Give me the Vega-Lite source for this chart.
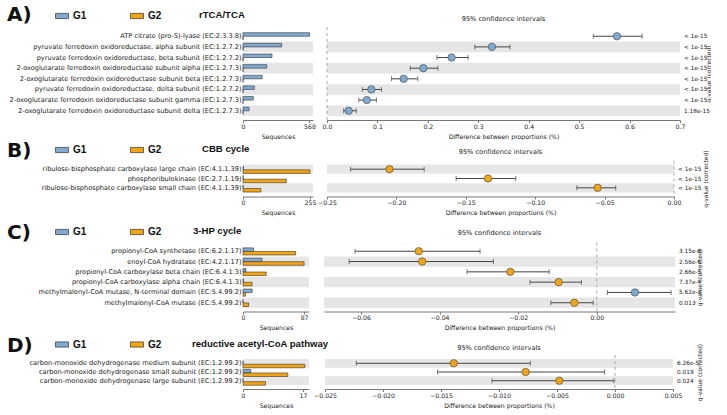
{
 "$schema": "https://vega.github.io/schema/vega-lite/v6.json",
 "padding": {"left": 7, "top": 5, "right": 0, "bottom": 0},
 "background": "white",
 "config": {
  "view": {"stroke": null},
  "font": "DejaVu Sans",
  "axis": {"labelFont": "DejaVu Sans", "titleFont": "DejaVu Sans", "labelFontSize": 6.2, "titleFontSize": 6.2, "titleFontWeight": "normal", "labelColor": "#222", "titleColor": "#222", "domainColor": "#777", "tickColor": "#777", "tickSize": 2.5, "grid": false, "labelPadding": 0.5, "titlePadding": 4, "labelFlush": false, "labelOverlap": false},
  "axisLeft": {"ticks": false, "domain": false, "labelFontSize": 6.6, "labelLimit": 400, "labelPadding": 2},
  "axisRight": {"labels": false, "ticks": false, "domain": false, "titleAngle": 270, "titleFontSize": 6},
  "legend": {"orient": "none", "direction": "horizontal", "titleOrient": "right", "columnPadding": 42, "symbolType": "M-1,-0.4H1V0.4H-1Z", "symbolSize": 169, "symbolStrokeColor": "#333", "symbolStrokeWidth": 0.7, "labelFont": "Liberation Sans", "labelFontSize": 10, "labelFontWeight": "bold", "labelOffset": 4, "labelColor": "#111", "titleFont": "Liberation Sans", "titleFontSize": 9.6, "titleFontWeight": "bold", "titleColor": "#111", "padding": 0},
  "title": {"font": "DejaVu Sans", "color": "#111", "anchor": "start", "frame": "group", "baseline": "middle"}
 },
 "resolve": {"scale": {"color": "independent"}, "legend": {"color": "independent"}},
 "datasets": {
  "A": [
   {"rank": 1, "feature": "ATP citrate (pro-S)-lyase (EC:2.3.3.8)", "G1": 568, "G2": 1, "diff": 0.575, "lo": 0.528, "hi": 0.625, "q": "< 1e-15"},
   {"rank": 2, "feature": "pyruvate ferredoxin oxidoreductase, alpha subunit (EC:1.2.7.2)", "G1": 330, "G2": 1, "diff": 0.327, "lo": 0.293, "hi": 0.363, "q": "< 1e-15"},
   {"rank": 3, "feature": "pyruvate ferredoxin oxidoreductase, beta subunit (EC:1.2.7.2)", "G1": 248, "G2": 1, "diff": 0.247, "lo": 0.218, "hi": 0.28, "q": "< 1e-15"},
   {"rank": 4, "feature": "2-oxoglutarate ferredoxin oxidoreductase subunit alpha (EC:1.2.7.3)", "G1": 203, "G2": 1, "diff": 0.191, "lo": 0.165, "hi": 0.22, "q": "< 1e-15"},
   {"rank": 5, "feature": "2-oxoglutarate ferredoxin oxidoreductase subunit beta (EC:1.2.7.3)", "G1": 164, "G2": 1, "diff": 0.152, "lo": 0.128, "hi": 0.18, "q": "< 1e-15"},
   {"rank": 6, "feature": "pyruvate ferredoxin oxidoreductase, delta subunit (EC:1.2.7.2)", "G1": 97, "G2": 0, "diff": 0.088, "lo": 0.07, "hi": 0.108, "q": "< 1e-15"},
   {"rank": 7, "feature": "2-oxoglutarate ferredoxin oxidoreductase subunit gamma (EC:1.2.7.3)", "G1": 88, "G2": 0, "diff": 0.079, "lo": 0.063, "hi": 0.098, "q": "< 1e-15"},
   {"rank": 8, "feature": "2-oxoglutarate ferredoxin oxidoreductase subunit delta (EC:1.2.7.3)", "G1": 52, "G2": 0, "diff": 0.043, "lo": 0.033, "hi": 0.058, "q": "1.18e-15"}
  ],
  "B": [
   {"rank": 1, "feature": "ribulose-bisphosphate carboxylase large chain (EC:4.1.1.39)", "G1": 2, "G2": 255, "diff": -0.205, "lo": -0.233, "hi": -0.18, "q": "< 1e-15"},
   {"rank": 2, "feature": "phosphoribulokinase (EC:2.7.1.19)", "G1": 1, "G2": 165, "diff": -0.134, "lo": -0.157, "hi": -0.114, "q": "< 1e-15"},
   {"rank": 3, "feature": "ribulose-bisphosphate carboxylase small chain (EC:4.1.1.39)", "G1": 0, "G2": 68, "diff": -0.055, "lo": -0.07, "hi": -0.042, "q": "< 1e-15"}
  ],
  "C": [
   {"rank": 1, "feature": "propionyl-CoA synthetase (EC:6.2.1.17)", "G1": 15, "G2": 75, "diff": -0.0453, "lo": -0.0615, "hi": -0.0297, "q": "3.15e-8"},
   {"rank": 2, "feature": "enoyl-CoA hydratase (EC:4.2.1.17)", "G1": 27, "G2": 87, "diff": -0.0444, "lo": -0.063, "hi": -0.0263, "q": "2.56e-6"},
   {"rank": 3, "feature": "propionyl-CoA carboxylase beta chain (EC:6.4.1.3)", "G1": 4, "G2": 33, "diff": -0.022, "lo": -0.033, "hi": -0.0121, "q": "2.66e-5"},
   {"rank": 4, "feature": "propionyl-CoA carboxylase alpha chain (EC:6.4.1.3)", "G1": 0.5, "G2": 13, "diff": -0.0097, "lo": -0.017, "hi": -0.0039, "q": "7.37e-4"},
   {"rank": 5, "feature": "methylmalonyl-CoA mutase, N-terminal domain (EC:5.4.99.2)", "G1": 13, "G2": 3.5, "diff": 0.0097, "lo": 0.0027, "hi": 0.0189, "q": "5.62e-3"},
   {"rank": 6, "feature": "methylmalonyl-CoA mutase (EC:5.4.99.2)", "G1": 0, "G2": 8, "diff": -0.0057, "lo": -0.0117, "hi": -0.0009, "q": "0.013"}
  ],
  "D": [
   {"rank": 1, "feature": "carbon-monoxide dehydrogenase medium subunit (EC:1.2.99.2)", "G1": 0, "G2": 17.5, "diff": -0.0139, "lo": -0.0223, "hi": -0.0073, "q": "6.26e-5"},
   {"rank": 2, "feature": "carbon-monoxide dehydrogenase small subunit (EC:1.2.99.2)", "G1": 2.2, "G2": 12.7, "diff": -0.0077, "lo": -0.0153, "hi": -0.0009, "q": "0.019"},
   {"rank": 3, "feature": "carbon-monoxide dehydrogenase large subunit (EC:1.2.99.2)", "G1": 0, "G2": 6.4, "diff": -0.0048, "lo": -0.0106, "hi": -0.0001, "q": "0.024"}
  ]
 },
 "spacing": 6.5,
 "vconcat": [
 {
 "spacing": 0.5,
 "resolve": {"scale": {"color": "independent"}, "legend": {"color": "independent"}},
 "vconcat": [
  {
   "data": {"name": "A"}, "bounds": "flush", "spacing": 14,
   "hconcat": [
    {
     "width": 70, "height": 93,
     "title": {"text": "A)", "fontSize": 20, "fontWeight": "bold", "dx": -236, "offset": 2},
     "transform": [{"joinaggregate": [{"op": "count", "as": "n"}]}],
     "layer": [
      {"transform": [{"filter": "(datum.n - datum.rank) % 2 == 0"}], "mark": {"type": "rect", "color": "#e6e6e6"},
       "encoding": {
        "y": {"field": "feature", "type": "nominal", "sort": {"field": "rank", "op": "min"}, "scale": {"paddingInner": 0, "paddingOuter": 0.37}, "axis": {"title": null}},
        "x": {"datum": 0, "type": "quantitative", "scale": {"domain": [0, 598], "nice": false}, "axis": {"values": [0, 568], "title": "Sequences", "format": "d"}},
        "x2": {"datum": 598}}},
      {"transform": [{"fold": ["G1", "G2"], "as": ["group", "value"]}], "mark": {"type": "bar", "stroke": "#333", "strokeWidth": 0.6},
       "encoding": {
        "y": {"field": "feature", "type": "nominal", "sort": {"field": "rank", "op": "min"}, "scale": {"paddingInner": 0, "paddingOuter": 0.37}, "axis": {"title": null}},
        "yOffset": {"field": "group", "type": "nominal", "scale": {"paddingOuter": 0.5, "paddingInner": 0}},
        "x": {"field": "value", "type": "quantitative", "scale": {"domain": [0, 598], "nice": false}, "axis": {"values": [0, 568], "title": "Sequences", "format": "d"}},
        "color": {"field": "group", "type": "nominal", "scale": {"domain": ["G1", "G2"], "range": ["#7faad1", "#f5a50f"]}, "legend": {"title": "rTCA/TCA", "legendX": -188, "legendY": -18, "titlePadding": 38}}}}
     ]
    },
    {
     "width": 353, "height": 93,
     "title": {"text": "95% confidence intervals", "anchor": "middle", "fontSize": 6.6, "fontWeight": "normal", "offset": 4, "color": "#222"},
     "transform": [{"joinaggregate": [{"op": "count", "as": "n"}]}],
     "layer": [
      {"transform": [{"filter": "(datum.n - datum.rank) % 2 == 0"}], "mark": {"type": "rect", "color": "#e6e6e6"},
       "encoding": {
        "y": {"field": "feature", "type": "nominal", "sort": {"field": "rank", "op": "min"}, "scale": {"paddingInner": 0, "paddingOuter": 0.37}, "axis": {"orient": "right", "title": "q-value (corrected)", "titlePadding": 31}},
        "x": {"datum": 0, "type": "quantitative", "scale": {"domain": [0, 0.7], "nice": false}, "title": "Difference between proportions (%)", "axis": {"values": [0, 0.1, 0.2, 0.3, 0.4, 0.5, 0.6, 0.7], "format": ".1f"}},
        "x2": {"datum": 0.7}}},
      {"transform": [{"filter": "datum.rank == 1"}], "mark": {"type": "rule", "color": "#aaa", "strokeDash": [3, 3], "strokeWidth": 1},
       "encoding": {"x": {"datum": 0, "type": "quantitative", "scale": {"domain": [0, 0.7], "nice": false}, "title": "Difference between proportions (%)", "axis": {"values": [0, 0.1, 0.2, 0.3, 0.4, 0.5, 0.6, 0.7], "format": ".1f"}}}},
      {"mark": {"type": "rule", "color": "#444", "strokeWidth": 1},
       "encoding": {
        "y": {"field": "feature", "type": "nominal", "sort": {"field": "rank", "op": "min"}, "scale": {"paddingInner": 0, "paddingOuter": 0.37}, "axis": {"orient": "right", "title": "q-value (corrected)", "titlePadding": 31}},
        "x": {"field": "lo", "type": "quantitative", "scale": {"domain": [0, 0.7], "nice": false}, "title": "Difference between proportions (%)", "axis": {"values": [0, 0.1, 0.2, 0.3, 0.4, 0.5, 0.6, 0.7], "format": ".1f"}},
        "x2": {"field": "hi"}}},
      {"mark": {"type": "tick", "color": "#444", "size": 5, "thickness": 1},
       "encoding": {
        "y": {"field": "feature", "type": "nominal", "sort": {"field": "rank", "op": "min"}, "scale": {"paddingInner": 0, "paddingOuter": 0.37}, "axis": {"orient": "right", "title": "q-value (corrected)", "titlePadding": 31}},
        "x": {"field": "lo", "type": "quantitative", "scale": {"domain": [0, 0.7], "nice": false}, "title": "Difference between proportions (%)"}}},
      {"mark": {"type": "tick", "color": "#444", "size": 5, "thickness": 1},
       "encoding": {
        "y": {"field": "feature", "type": "nominal", "sort": {"field": "rank", "op": "min"}, "scale": {"paddingInner": 0, "paddingOuter": 0.37}, "axis": {"orient": "right", "title": "q-value (corrected)", "titlePadding": 31}},
        "x": {"field": "hi", "type": "quantitative", "scale": {"domain": [0, 0.7], "nice": false}, "title": "Difference between proportions (%)"}}},
      {"mark": {"type": "circle", "size": 55, "stroke": "#555", "strokeWidth": 0.7, "opacity": 1},
       "encoding": {
        "y": {"field": "feature", "type": "nominal", "sort": {"field": "rank", "op": "min"}, "scale": {"paddingInner": 0, "paddingOuter": 0.37}, "axis": {"orient": "right", "title": "q-value (corrected)", "titlePadding": 31}},
        "x": {"field": "diff", "type": "quantitative", "scale": {"domain": [0, 0.7], "nice": false}, "title": "Difference between proportions (%)"},
        "color": {"condition": {"test": "datum.diff > 0", "value": "#7faad1"}, "value": "#f5a50f"}}},
      {"mark": {"type": "text", "align": "left", "dx": 4, "fontSize": 5.8, "color": "#222", "font": "DejaVu Sans"},
       "encoding": {
        "y": {"field": "feature", "type": "nominal", "sort": {"field": "rank", "op": "min"}, "scale": {"paddingInner": 0, "paddingOuter": 0.37}, "axis": {"orient": "right", "title": "q-value (corrected)", "titlePadding": 31}},
        "x": {"datum": 0.7, "type": "quantitative"},
        "text": {"field": "q"}}}
     ]
    }
   ]
  },
  {
   "data": {"name": "B"}, "bounds": "flush", "spacing": 14,
   "hconcat": [
    {
     "width": 70, "height": 36,
     "title": {"text": "B)", "fontSize": 20, "fontWeight": "bold", "dx": -236, "offset": -0.5},
     "transform": [{"joinaggregate": [{"op": "count", "as": "n"}]}],
     "layer": [
      {"transform": [{"filter": "(datum.n - datum.rank) % 2 == 0"}], "mark": {"type": "rect", "color": "#e6e6e6"},
       "encoding": {
        "y": {"field": "feature", "type": "nominal", "sort": {"field": "rank", "op": "min"}, "scale": {"paddingInner": 0, "paddingOuter": 0.43}, "axis": {"title": null}},
        "x": {"datum": 0, "type": "quantitative", "scale": {"domain": [0, 266.4], "nice": false}, "axis": {"values": [0, 255], "title": "Sequences", "format": "d"}},
        "x2": {"datum": 266.4}}},
      {"transform": [{"fold": ["G1", "G2"], "as": ["group", "value"]}], "mark": {"type": "bar", "stroke": "#333", "strokeWidth": 0.6},
       "encoding": {
        "y": {"field": "feature", "type": "nominal", "sort": {"field": "rank", "op": "min"}, "scale": {"paddingInner": 0, "paddingOuter": 0.43}, "axis": {"title": null}},
        "yOffset": {"field": "group", "type": "nominal", "scale": {"paddingOuter": 0.5, "paddingInner": 0}},
        "x": {"field": "value", "type": "quantitative", "scale": {"domain": [0, 266.4], "nice": false}, "axis": {"values": [0, 255], "title": "Sequences", "format": "d"}},
        "color": {"field": "group", "type": "nominal", "scale": {"domain": ["G1", "G2"], "range": ["#7faad1", "#f5a50f"]}, "legend": {"title": "CBB cycle", "legendX": -188, "legendY": -17.5, "titlePadding": 41}}}}
     ]
    },
    {
     "width": 347, "height": 36,
     "title": {"text": "95% confidence intervals", "anchor": "middle", "fontSize": 6.6, "fontWeight": "normal", "offset": -6, "color": "#222"},
     "transform": [{"joinaggregate": [{"op": "count", "as": "n"}]}],
     "layer": [
      {"transform": [{"filter": "(datum.n - datum.rank) % 2 == 0"}], "mark": {"type": "rect", "color": "#e6e6e6"},
       "encoding": {
        "y": {"field": "feature", "type": "nominal", "sort": {"field": "rank", "op": "min"}, "scale": {"paddingInner": 0, "paddingOuter": 0.43}, "axis": {"orient": "right", "title": "q-value (corrected)", "titlePadding": 34}},
        "x": {"datum": -0.25, "type": "quantitative", "scale": {"domain": [-0.25, 0], "nice": false}, "title": "Difference between proportions (%)", "axis": {"values": [-0.25, -0.2, -0.15, -0.1, -0.05, 0], "format": ".2f"}},
        "x2": {"datum": 0}}},
      {"transform": [{"filter": "datum.rank == 1"}], "mark": {"type": "rule", "color": "#aaa", "strokeDash": [3, 3], "strokeWidth": 1},
       "encoding": {"x": {"datum": 0, "type": "quantitative", "scale": {"domain": [-0.25, 0], "nice": false}, "title": "Difference between proportions (%)", "axis": {"values": [-0.25, -0.2, -0.15, -0.1, -0.05, 0], "format": ".2f"}}}},
      {"mark": {"type": "rule", "color": "#444", "strokeWidth": 1},
       "encoding": {
        "y": {"field": "feature", "type": "nominal", "sort": {"field": "rank", "op": "min"}, "scale": {"paddingInner": 0, "paddingOuter": 0.43}, "axis": {"orient": "right", "title": "q-value (corrected)", "titlePadding": 34}},
        "x": {"field": "lo", "type": "quantitative", "scale": {"domain": [-0.25, 0], "nice": false}, "title": "Difference between proportions (%)", "axis": {"values": [-0.25, -0.2, -0.15, -0.1, -0.05, 0], "format": ".2f"}},
        "x2": {"field": "hi"}}},
      {"mark": {"type": "tick", "color": "#444", "size": 5, "thickness": 1},
       "encoding": {
        "y": {"field": "feature", "type": "nominal", "sort": {"field": "rank", "op": "min"}, "scale": {"paddingInner": 0, "paddingOuter": 0.43}, "axis": {"orient": "right", "title": "q-value (corrected)", "titlePadding": 34}},
        "x": {"field": "lo", "type": "quantitative", "scale": {"domain": [-0.25, 0], "nice": false}, "title": "Difference between proportions (%)"}}},
      {"mark": {"type": "tick", "color": "#444", "size": 5, "thickness": 1},
       "encoding": {
        "y": {"field": "feature", "type": "nominal", "sort": {"field": "rank", "op": "min"}, "scale": {"paddingInner": 0, "paddingOuter": 0.43}, "axis": {"orient": "right", "title": "q-value (corrected)", "titlePadding": 34}},
        "x": {"field": "hi", "type": "quantitative", "scale": {"domain": [-0.25, 0], "nice": false}, "title": "Difference between proportions (%)"}}},
      {"mark": {"type": "circle", "size": 55, "stroke": "#555", "strokeWidth": 0.7, "opacity": 1},
       "encoding": {
        "y": {"field": "feature", "type": "nominal", "sort": {"field": "rank", "op": "min"}, "scale": {"paddingInner": 0, "paddingOuter": 0.43}, "axis": {"orient": "right", "title": "q-value (corrected)", "titlePadding": 34}},
        "x": {"field": "diff", "type": "quantitative", "scale": {"domain": [-0.25, 0], "nice": false}, "title": "Difference between proportions (%)"},
        "color": {"condition": {"test": "datum.diff > 0", "value": "#7faad1"}, "value": "#f5a50f"}}},
      {"mark": {"type": "text", "align": "left", "dx": 4, "fontSize": 5.8, "color": "#222", "font": "DejaVu Sans"},
       "encoding": {
        "y": {"field": "feature", "type": "nominal", "sort": {"field": "rank", "op": "min"}, "scale": {"paddingInner": 0, "paddingOuter": 0.43}, "axis": {"orient": "right", "title": "q-value (corrected)", "titlePadding": 34}},
        "x": {"datum": 0, "type": "quantitative"},
        "text": {"field": "q"}}}
     ]
    }
   ]
  }
 ]
 },
 {
 "spacing": 3.5,
 "resolve": {"scale": {"color": "independent"}, "legend": {"color": "independent"}},
 "vconcat": [
  {
   "data": {"name": "C"}, "bounds": "flush", "spacing": 15,
   "hconcat": [
    {
     "width": 66, "height": 69,
     "title": {"text": "C)", "fontSize": 20, "fontWeight": "bold", "dx": -236, "offset": -0.5},
     "transform": [{"joinaggregate": [{"op": "count", "as": "n"}]}],
     "layer": [
      {"transform": [{"filter": "(datum.n - datum.rank) % 2 == 0"}], "mark": {"type": "rect", "color": "#e6e6e6"},
       "encoding": {
        "y": {"field": "feature", "type": "nominal", "sort": {"field": "rank", "op": "min"}, "scale": {"paddingInner": 0, "paddingOuter": 0.35}, "axis": {"title": null}},
        "x": {"datum": 0, "type": "quantitative", "scale": {"domain": [0, 94], "nice": false}, "axis": {"values": [0, 87], "title": "Sequences", "format": "d"}},
        "x2": {"datum": 94}}},
      {"transform": [{"fold": ["G1", "G2"], "as": ["group", "value"]}], "mark": {"type": "bar", "stroke": "#333", "strokeWidth": 0.6},
       "encoding": {
        "y": {"field": "feature", "type": "nominal", "sort": {"field": "rank", "op": "min"}, "scale": {"paddingInner": 0, "paddingOuter": 0.35}, "axis": {"title": null}},
        "yOffset": {"field": "group", "type": "nominal", "scale": {"paddingOuter": 0.5, "paddingInner": 0}},
        "x": {"field": "value", "type": "quantitative", "scale": {"domain": [0, 94], "nice": false}, "axis": {"values": [0, 87], "title": "Sequences", "format": "d"}},
        "color": {"field": "group", "type": "nominal", "scale": {"domain": ["G1", "G2"], "range": ["#7faad1", "#f5a50f"]}, "legend": {"title": "3-HP cycle", "legendX": -188, "legendY": -17.5, "titlePadding": 32}}}}
     ]
    },
    {
     "width": 351, "height": 69,
     "title": {"text": "95% confidence intervals", "anchor": "middle", "fontSize": 6.6, "fontWeight": "normal", "offset": 5, "color": "#222"},
     "transform": [{"joinaggregate": [{"op": "count", "as": "n"}]}],
     "layer": [
      {"transform": [{"filter": "(datum.n - datum.rank) % 2 == 0"}], "mark": {"type": "rect", "color": "#e6e6e6"},
       "encoding": {
        "y": {"field": "feature", "type": "nominal", "sort": {"field": "rank", "op": "min"}, "scale": {"paddingInner": 0, "paddingOuter": 0.35}, "axis": {"orient": "right", "title": "q-value (corrected)", "titlePadding": 27}},
        "x": {"datum": -0.0694, "type": "quantitative", "scale": {"domain": [-0.0694, 0.0199], "nice": false}, "title": "Difference between proportions (%)", "axis": {"values": [-0.06, -0.04, -0.02, 0], "format": ".2f"}},
        "x2": {"datum": 0.0199}}},
      {"transform": [{"filter": "datum.rank == 1"}], "mark": {"type": "rule", "color": "#aaa", "strokeDash": [3, 3], "strokeWidth": 1},
       "encoding": {"x": {"datum": 0, "type": "quantitative", "scale": {"domain": [-0.0694, 0.0199], "nice": false}, "title": "Difference between proportions (%)", "axis": {"values": [-0.06, -0.04, -0.02, 0], "format": ".2f"}}}},
      {"mark": {"type": "rule", "color": "#444", "strokeWidth": 1},
       "encoding": {
        "y": {"field": "feature", "type": "nominal", "sort": {"field": "rank", "op": "min"}, "scale": {"paddingInner": 0, "paddingOuter": 0.35}, "axis": {"orient": "right", "title": "q-value (corrected)", "titlePadding": 27}},
        "x": {"field": "lo", "type": "quantitative", "scale": {"domain": [-0.0694, 0.0199], "nice": false}, "title": "Difference between proportions (%)", "axis": {"values": [-0.06, -0.04, -0.02, 0], "format": ".2f"}},
        "x2": {"field": "hi"}}},
      {"mark": {"type": "tick", "color": "#444", "size": 5, "thickness": 1},
       "encoding": {
        "y": {"field": "feature", "type": "nominal", "sort": {"field": "rank", "op": "min"}, "scale": {"paddingInner": 0, "paddingOuter": 0.35}, "axis": {"orient": "right", "title": "q-value (corrected)", "titlePadding": 27}},
        "x": {"field": "lo", "type": "quantitative", "scale": {"domain": [-0.0694, 0.0199], "nice": false}, "title": "Difference between proportions (%)"}}},
      {"mark": {"type": "tick", "color": "#444", "size": 5, "thickness": 1},
       "encoding": {
        "y": {"field": "feature", "type": "nominal", "sort": {"field": "rank", "op": "min"}, "scale": {"paddingInner": 0, "paddingOuter": 0.35}, "axis": {"orient": "right", "title": "q-value (corrected)", "titlePadding": 27}},
        "x": {"field": "hi", "type": "quantitative", "scale": {"domain": [-0.0694, 0.0199], "nice": false}, "title": "Difference between proportions (%)"}}},
      {"mark": {"type": "circle", "size": 55, "stroke": "#555", "strokeWidth": 0.7, "opacity": 1},
       "encoding": {
        "y": {"field": "feature", "type": "nominal", "sort": {"field": "rank", "op": "min"}, "scale": {"paddingInner": 0, "paddingOuter": 0.35}, "axis": {"orient": "right", "title": "q-value (corrected)", "titlePadding": 27}},
        "x": {"field": "diff", "type": "quantitative", "scale": {"domain": [-0.0694, 0.0199], "nice": false}, "title": "Difference between proportions (%)"},
        "color": {"condition": {"test": "datum.diff > 0", "value": "#7faad1"}, "value": "#f5a50f"}}},
      {"mark": {"type": "text", "align": "left", "dx": 4, "fontSize": 5.8, "color": "#222", "font": "DejaVu Sans"},
       "encoding": {
        "y": {"field": "feature", "type": "nominal", "sort": {"field": "rank", "op": "min"}, "scale": {"paddingInner": 0, "paddingOuter": 0.35}, "axis": {"orient": "right", "title": "q-value (corrected)", "titlePadding": 27}},
        "x": {"datum": 0.0199, "type": "quantitative"},
        "text": {"field": "q"}}}
     ]
    }
   ]
  },
  {
   "data": {"name": "D"}, "bounds": "flush", "spacing": 16,
   "hconcat": [
    {
     "width": 66, "height": 34,
     "title": {"text": "D)", "fontSize": 20, "fontWeight": "bold", "dx": -236, "offset": -0.5},
     "transform": [{"joinaggregate": [{"op": "count", "as": "n"}]}],
     "layer": [
      {"transform": [{"filter": "(datum.n - datum.rank) % 2 == 0"}], "mark": {"type": "rect", "color": "#e6e6e6"},
       "encoding": {
        "y": {"field": "feature", "type": "nominal", "sort": {"field": "rank", "op": "min"}, "scale": {"paddingInner": 0, "paddingOuter": 0.45}, "axis": {"title": null}},
        "x": {"datum": 0, "type": "quantitative", "scale": {"domain": [0, 18.7], "nice": false}, "axis": {"values": [0, 17], "title": "Sequences", "format": "d"}},
        "x2": {"datum": 18.7}}},
      {"transform": [{"fold": ["G1", "G2"], "as": ["group", "value"]}], "mark": {"type": "bar", "stroke": "#333", "strokeWidth": 0.6},
       "encoding": {
        "y": {"field": "feature", "type": "nominal", "sort": {"field": "rank", "op": "min"}, "scale": {"paddingInner": 0, "paddingOuter": 0.45}, "axis": {"title": null}},
        "yOffset": {"field": "group", "type": "nominal", "scale": {"paddingOuter": 0.5, "paddingInner": 0}},
        "x": {"field": "value", "type": "quantitative", "scale": {"domain": [0, 18.7], "nice": false}, "axis": {"values": [0, 17], "title": "Sequences", "format": "d"}},
        "color": {"field": "group", "type": "nominal", "scale": {"domain": ["G1", "G2"], "range": ["#7faad1", "#f5a50f"]}, "legend": {"title": "reductive  acetyl-CoA pathway", "legendX": -188, "legendY": -17.5, "titlePadding": 31}}}}
     ]
    },
    {
     "width": 348, "height": 34,
     "title": {"text": "95% confidence intervals", "anchor": "middle", "fontSize": 6.6, "fontWeight": "normal", "offset": -8, "color": "#222"},
     "transform": [{"joinaggregate": [{"op": "count", "as": "n"}]}],
     "layer": [
      {"transform": [{"filter": "(datum.n - datum.rank) % 2 == 0"}], "mark": {"type": "rect", "color": "#e6e6e6"},
       "encoding": {
        "y": {"field": "feature", "type": "nominal", "sort": {"field": "rank", "op": "min"}, "scale": {"paddingInner": 0, "paddingOuter": 0.45}, "axis": {"orient": "right", "title": "q-value (corrected)", "titlePadding": 29}},
        "x": {"datum": -0.025, "type": "quantitative", "scale": {"domain": [-0.025, 0.005], "nice": false}, "title": "Difference between proportions (%)", "axis": {"values": [-0.025, -0.02, -0.015, -0.01, -0.005, 0, 0.005], "format": ".3f"}},
        "x2": {"datum": 0.005}}},
      {"transform": [{"filter": "datum.rank == 1"}], "mark": {"type": "rule", "color": "#aaa", "strokeDash": [3, 3], "strokeWidth": 1},
       "encoding": {"x": {"datum": 0, "type": "quantitative", "scale": {"domain": [-0.025, 0.005], "nice": false}, "title": "Difference between proportions (%)", "axis": {"values": [-0.025, -0.02, -0.015, -0.01, -0.005, 0, 0.005], "format": ".3f"}}}},
      {"mark": {"type": "rule", "color": "#444", "strokeWidth": 1},
       "encoding": {
        "y": {"field": "feature", "type": "nominal", "sort": {"field": "rank", "op": "min"}, "scale": {"paddingInner": 0, "paddingOuter": 0.45}, "axis": {"orient": "right", "title": "q-value (corrected)", "titlePadding": 29}},
        "x": {"field": "lo", "type": "quantitative", "scale": {"domain": [-0.025, 0.005], "nice": false}, "title": "Difference between proportions (%)", "axis": {"values": [-0.025, -0.02, -0.015, -0.01, -0.005, 0, 0.005], "format": ".3f"}},
        "x2": {"field": "hi"}}},
      {"mark": {"type": "tick", "color": "#444", "size": 5, "thickness": 1},
       "encoding": {
        "y": {"field": "feature", "type": "nominal", "sort": {"field": "rank", "op": "min"}, "scale": {"paddingInner": 0, "paddingOuter": 0.45}, "axis": {"orient": "right", "title": "q-value (corrected)", "titlePadding": 29}},
        "x": {"field": "lo", "type": "quantitative", "scale": {"domain": [-0.025, 0.005], "nice": false}, "title": "Difference between proportions (%)"}}},
      {"mark": {"type": "tick", "color": "#444", "size": 5, "thickness": 1},
       "encoding": {
        "y": {"field": "feature", "type": "nominal", "sort": {"field": "rank", "op": "min"}, "scale": {"paddingInner": 0, "paddingOuter": 0.45}, "axis": {"orient": "right", "title": "q-value (corrected)", "titlePadding": 29}},
        "x": {"field": "hi", "type": "quantitative", "scale": {"domain": [-0.025, 0.005], "nice": false}, "title": "Difference between proportions (%)"}}},
      {"mark": {"type": "circle", "size": 55, "stroke": "#555", "strokeWidth": 0.7, "opacity": 1},
       "encoding": {
        "y": {"field": "feature", "type": "nominal", "sort": {"field": "rank", "op": "min"}, "scale": {"paddingInner": 0, "paddingOuter": 0.45}, "axis": {"orient": "right", "title": "q-value (corrected)", "titlePadding": 29}},
        "x": {"field": "diff", "type": "quantitative", "scale": {"domain": [-0.025, 0.005], "nice": false}, "title": "Difference between proportions (%)"},
        "color": {"condition": {"test": "datum.diff > 0", "value": "#7faad1"}, "value": "#f5a50f"}}},
      {"mark": {"type": "text", "align": "left", "dx": 4, "fontSize": 5.8, "color": "#222", "font": "DejaVu Sans"},
       "encoding": {
        "y": {"field": "feature", "type": "nominal", "sort": {"field": "rank", "op": "min"}, "scale": {"paddingInner": 0, "paddingOuter": 0.45}, "axis": {"orient": "right", "title": "q-value (corrected)", "titlePadding": 29}},
        "x": {"datum": 0.005, "type": "quantitative"},
        "text": {"field": "q"}}}
     ]
    }
   ]
  }
 ]
 }
 ]
}
